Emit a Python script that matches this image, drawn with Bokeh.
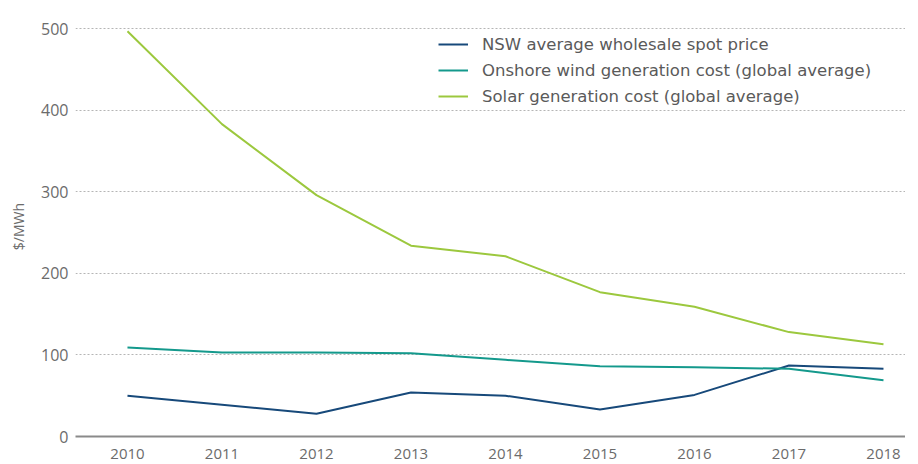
from bokeh.plotting import figure
from bokeh.models import Range1d, Legend, LegendItem, FixedTicker
from bokeh.embed import file_html
from bokeh.resources import INLINE

years = [2010, 2011, 2012, 2013, 2014, 2015, 2016, 2017, 2018]
nsw_price = [50, 39, 28, 54, 50, 33, 51, 87, 83]
wind_cost = [109, 103, 103, 102, 94, 86, 85, 83, 69]
solar_cost = [497, 383, 296, 234, 221, 177, 159, 128, 113]

series_names = [
    "NSW average wholesale spot price",
    "Onshore wind generation cost (global average)",
    "Solar generation cost (global average)",
]
y_ticks = [0, 100, 200, 300, 400, 500]

FONT = "Open Sans"
TXT = "#6b6b6b"

p = figure(frame_width=830, frame_height=420, output_backend="svg", toolbar_location=None,
           x_range=Range1d(2009.45, 2018.233), y_range=Range1d(0, 515),
           min_border_left=75, min_border_right=0, min_border_top=16, min_border_bottom=0)
p.outline_line_color = None
p.background_fill_color = "white"
p.border_fill_color = "white"

r1 = p.line(years, nsw_price, line_color="#17497a", line_width=2)
r2 = p.line(years, wind_cost, line_color="#14998c", line_width=2)
r3 = p.line(years, solar_cost, line_color="#9cc83e", line_width=2)

p.xaxis.ticker = FixedTicker(ticks=years)
p.xaxis.axis_line_color = "#8a8a8a"
p.xaxis.axis_line_width = 2
p.xaxis.major_tick_line_color = None
p.xaxis.minor_tick_line_color = None
p.xaxis.major_label_text_font = FONT
p.xaxis.major_label_text_font_size = "15px"
p.xaxis.major_label_text_color = TXT
p.xaxis.major_label_standoff = 6

p.yaxis.ticker = FixedTicker(ticks=y_ticks)
p.yaxis.axis_line_color = None
p.yaxis.major_tick_line_color = None
p.yaxis.minor_tick_line_color = None
p.yaxis.major_label_text_font = FONT
p.yaxis.major_label_text_font_size = "16px"
p.yaxis.major_label_text_color = TXT
p.yaxis.major_label_standoff = 1
p.yaxis.axis_label = "$/MWh"
p.yaxis.axis_label_text_font = FONT
p.yaxis.axis_label_text_font_size = "14px"
p.yaxis.axis_label_text_font_style = "normal"
p.yaxis.axis_label_text_color = TXT
p.yaxis.axis_label_standoff = 10

p.xgrid.grid_line_color = None
p.ygrid.grid_line_color = "#b5b5b5"
p.ygrid.grid_line_dash = "2 2"
p.ygrid.grid_line_width = 1

legend = Legend(items=[
    LegendItem(label=series_names[0], renderers=[r1]),
    LegendItem(label=series_names[1], renderers=[r2]),
    LegendItem(label=series_names[2], renderers=[r3]),
], location=(363, 329))
legend.background_fill_alpha = 0
legend.border_line_color = None
legend.label_text_font = "DejaVu Sans"
legend.label_text_font_size = "16.5px"
legend.label_text_color = "#5a5a5a"
legend.glyph_width = 30
legend.glyph_height = 22
legend.label_height = 22
legend.spacing = 4
legend.padding = 5
legend.label_standoff = 14
p.add_layout(legend, "center")

open("out.html", "w").write(file_html(p, INLINE))
